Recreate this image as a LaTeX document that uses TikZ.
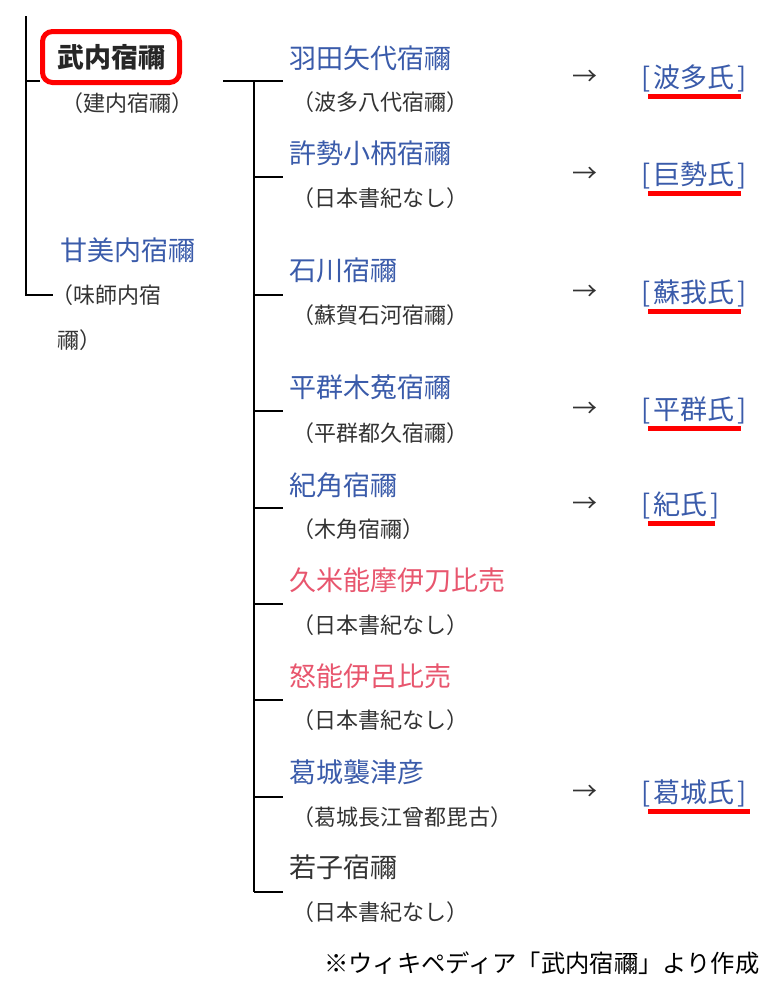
\documentclass[tikz,border=0pt]{standalone}
\usepackage{fontspec}
\newfontfamily\jp{Noto Sans CJK JP}
\definecolor{nameblue}{HTML}{3A5BAA}
\definecolor{namepink}{HTML}{E8566E}
\definecolor{subgray}{HTML}{333333}
\definecolor{boxred}{HTML}{FF0000}
\tikzset{
  nm/.style={anchor=west, inner sep=0pt, text=nameblue, font=\jp\fontsize{27}{30}\selectfont},
  nmpink/.style={nm, text=namepink},
  nmblack/.style={nm, text=subgray},
  sub/.style={anchor=west, inner sep=0pt, text=subgray, font=\jp\fontsize{22}{25}\selectfont},
  clan/.style={anchor=west, inner sep=0pt, text=nameblue, font=\jp\fontsize{27}{30}\selectfont},
  arr/.style={anchor=west, inner sep=0pt, text=subgray, font=\jp\fontsize{25}{28}\selectfont},
  tree/.style={line width=1.4pt, black},
  uline/.style={line width=5pt, boxred},
}
\begin{document}
\begin{tikzpicture}[x=1pt,y=-1pt]
\useasboundingbox[fill=white] (0,0) rectangle (773,983);

% left generation
\coordinate (ltop) at (26,16);
\coordinate (lmid) at (26,81);
\coordinate (lbot) at (26,295);
\node[draw=boxred, line width=5pt, rounded corners=10pt, minimum width=137pt, minimum height=51pt, inner sep=0pt,
      font=\jp\bfseries\fontsize{27}{30}\selectfont, text=black!85] (takeuchi) at (111,57) {武内宿禰};
\node[sub] (takeuchisub) at (61,103) {（建内宿禰）};
\node[nm] (umashi) at (60,250) {甘美内宿禰};
\node[sub] (umashisub1) at (51,295) {（味師内宿};
\node[sub] (umashisub2) at (57,340) {禰）};
\coordinate (umashibr) at (53,295);

\draw[tree] (ltop) -- (lbot) -- (umashibr);
\draw[tree] (lmid) -- (takeuchi.west|-lmid);

% right tree
\coordinate (rstart) at (223,81);
\coordinate (rtop) at (254,81);
\coordinate (rbot) at (254,892);
\draw[tree] (rstart) -- (rtop) -- (rbot);

\foreach \y/\n in {81/b1,177/b2,295/b3,411/b4,508/b5,604/b6,700/b7,797/b8,892/b9}{
  \coordinate (\n l) at (254,\y);
  \coordinate (\n r) at (283,\y);
  \draw[tree] (\n l) -- (\n r);
}

% children
\node[nm] (c1) at (289,58) {羽田矢代宿禰};
\node[sub] (c1s) at (292,102) {（波多八代宿禰）};
\node[nm] (c2) at (289,153) {許勢小柄宿禰};
\node[sub] (c2s) at (292,198) {（日本書紀なし）};
\node[nm] (c3) at (289,270) {石川宿禰};
\node[sub] (c3s) at (292,315) {（蘇賀石河宿禰）};
\node[nm] (c4) at (289,387) {平群木菟宿禰};
\node[sub] (c4s) at (292,433) {（平群都久宿禰）};
\node[nm] (c5) at (289,485) {紀角宿禰};
\node[sub] (c5s) at (292,529) {（木角宿禰）};
\node[nmpink] (c6) at (289,580) {久米能摩伊刀比売};
\node[sub] (c6s) at (292,625) {（日本書紀なし）};
\node[nmpink] (c7) at (289,676) {怒能伊呂比売};
\node[sub] (c7s) at (292,720) {（日本書紀なし）};
\node[nm] (c8) at (289,772) {葛城襲津彦};
\node[sub] (c8s) at (292,817) {（葛城長江曾都毘古）};
\node[nmblack] (c9) at (289,867) {若子宿禰};
\node[sub] (c9s) at (292,912) {（日本書紀なし）};

% arrows and clans
\foreach \y/\n/\t/\e in {78/k1/波多氏/741,175/k2/巨勢氏/741,293/k3/蘇我氏/741,410/k4/平群氏/741,505/k5/紀氏/715,793/k6/葛城氏/750}{
  \node[arr] (a\n) at (572,\y) {→};
  \node[clan] (\n) at (641,\y) {[\kern3pt\t\kern3pt]};
  \draw[uline] (648,\y+18) -- (\e,\y+18);
}

% footnote
\node[anchor=west, inner sep=0pt, text=black, font=\jp\fontsize{24.3}{28}\selectfont] (note) at (324,963) {※ウィキペディア「武内宿禰」より作成};
\end{tikzpicture}
\end{document}
